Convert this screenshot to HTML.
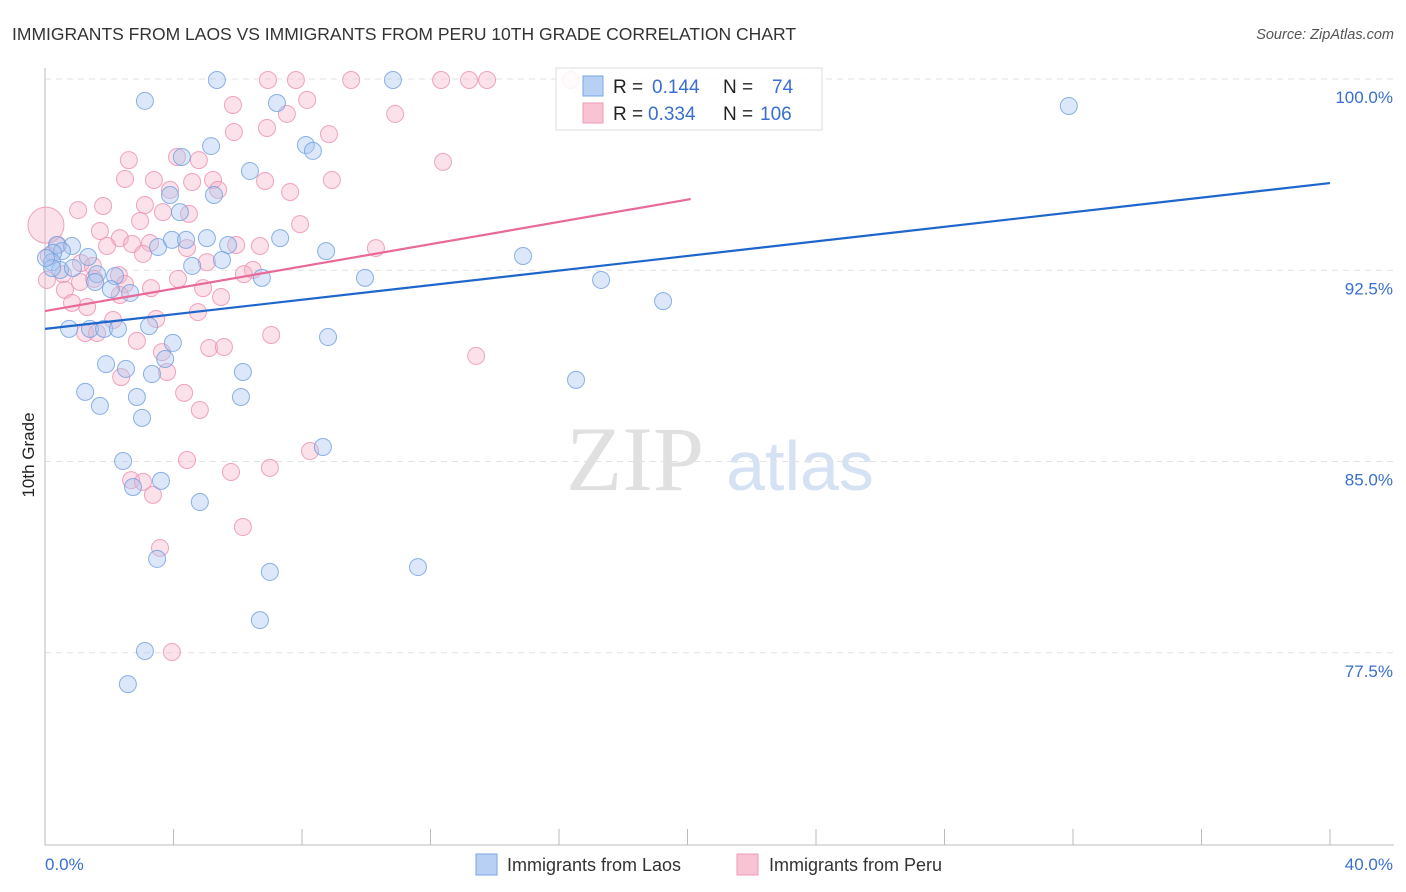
<!DOCTYPE html>
<html><head><meta charset="utf-8"><style>
html,body{margin:0;padding:0;background:#fff;width:1406px;height:892px;overflow:hidden;font-family:"Liberation Sans",sans-serif}
</style></head><body>
<svg id="chart" width="1406" height="892" viewBox="0 0 1406 892" xmlns="http://www.w3.org/2000/svg" font-family="Liberation Sans, sans-serif">
<text x="12" y="40" font-size="17.5" fill="#333">IMMIGRANTS FROM LAOS VS IMMIGRANTS FROM PERU 10TH GRADE CORRELATION CHART</text>
<text x="1394" y="39" font-size="14.5" fill="#555" font-style="italic" text-anchor="end">Source: ZipAtlas.com</text>
<text transform="translate(34,455) rotate(-90)" font-size="17" fill="#222" text-anchor="middle">10th Grade</text>
<g>
<text x="635" y="490" font-size="92" fill="#e0e0e0" font-family="Liberation Serif, serif" text-anchor="middle">ZIP</text>
<text x="800" y="490" font-size="70" fill="#d4e2f4" text-anchor="middle">atlas</text>
</g>
<g id="grid"></g><g id="axes"></g><g id="points"></g><g id="trends"></g>
<g>
<rect x="556" y="68" width="266" height="62" fill="#fff" fill-opacity="0.85" stroke="#ddd"/>
<rect x="583" y="76" width="20" height="20" fill="#b7d0f4" stroke="#7aa6e6"/>
<rect x="583" y="103" width="20" height="20" fill="#f8c4d4" stroke="#ee9ab6"/>
<text x="613" y="93" font-size="19" fill="#222">R =</text><text x="652" y="93" font-size="19" fill="#3a6fd0">0.144</text>
<text x="723" y="93" font-size="19" fill="#222">N =</text><text x="772" y="93" font-size="19" fill="#3a6fd0">74</text>
<text x="613" y="120" font-size="19" fill="#222">R =</text><text x="648" y="120" font-size="19" fill="#3a6fd0">0.334</text>
<text x="723" y="120" font-size="19" fill="#222">N =</text><text x="760" y="120" font-size="19" fill="#3a6fd0">106</text>
</g>
<g>
<rect x="476" y="854" width="21" height="21" fill="#b7d0f4" stroke="#7aa6e6"/>
<text x="507" y="871" font-size="18" fill="#333">Immigrants from Laos</text>
<rect x="737" y="854" width="21" height="21" fill="#f8c4d4" stroke="#ee9ab6"/>
<text x="769" y="871" font-size="18" fill="#333">Immigrants from Peru</text>
</g>
</svg>
<script>
const yTicks=[100,92.5,85,77.5];
const yTickLabels=["100.0%","92.5%","85.0%","77.5%"];
const xEndLabels=["0.0%","40.0%"];
const laosX=[3.11,5.35,10.83,31.87,7.22,8.12,8.34,5.17,4.26,6.38,5.26,3.89,4.20,0.37,0.84,0.53,0.25,1.34,0.22,0.47,0.87,2.18,1.62,1.56,2.05,2.65,0.22,3.52,3.95,4.39,5.04,5.70,7.32,8.75,4.58,5.51,6.75,9.96,14.88,17.31,19.24,0.75,1.40,1.84,2.27,3.24,3.98,3.74,1.90,2.52,3.33,6.16,1.25,2.86,6.10,1.71,3.02,8.81,16.53,8.65,2.43,2.74,3.61,4.82,3.49,7.00,11.61,6.69,3.11,2.58,0.03];
const laosY=[99.14,99.96,99.96,98.94,99.06,97.41,97.18,97.37,96.94,96.39,95.45,95.45,94.78,93.49,93.45,93.25,93.18,93.02,92.82,92.51,92.59,92.27,92.35,92.04,91.76,91.61,92.59,93.41,93.69,93.69,93.76,93.49,93.76,93.25,92.67,92.90,92.20,92.20,93.06,92.12,91.29,90.20,90.20,90.20,90.20,90.31,89.65,89.02,88.82,88.63,88.43,88.51,87.73,87.53,87.53,87.18,86.71,89.88,88.20,85.57,85.02,84.00,84.24,83.41,81.18,80.67,80.86,78.78,77.57,76.27,92.98];
const peruX=[6.94,7.81,9.53,12.33,13.20,13.76,16.37,8.16,5.85,7.53,10.90,5.88,6.91,8.84,4.11,4.79,2.61,12.39,2.49,3.39,4.58,5.23,6.85,8.93,7.63,5.39,3.89,3.11,1.03,1.81,3.67,4.48,2.96,1.71,7.94,2.33,1.93,2.71,3.27,4.42,3.05,5.04,6.69,5.95,10.30,0.40,0.12,1.12,1.49,2.30,4.14,6.47,6.19,0.56,1.09,1.53,0.62,2.49,3.30,4.92,5.48,0.84,1.31,2.12,3.46,4.76,1.25,1.62,2.86,3.64,5.11,5.57,7.04,13.42,2.37,3.80,4.33,4.82,8.25,4.42,5.79,7.00,2.68,3.05,3.36,6.16,3.58,3.95,0.06,2.33,0.03];
const peruY=[99.96,99.96,99.96,99.96,99.96,99.96,99.96,99.18,98.98,98.63,98.63,97.92,98.08,97.84,96.94,96.82,96.82,96.75,96.08,96.04,95.96,96.04,96.00,96.04,95.57,95.65,95.65,95.06,94.86,95.02,94.78,94.71,94.43,94.04,94.31,93.76,93.45,93.53,93.57,93.37,93.14,92.82,93.45,93.49,93.37,93.49,93.06,92.78,92.67,92.31,92.16,92.51,92.35,92.35,92.04,92.16,91.73,91.96,91.80,91.80,91.45,91.22,91.06,90.55,90.59,90.86,90.04,90.04,89.73,89.29,89.45,89.49,89.96,89.14,88.31,88.51,87.69,87.02,85.41,85.06,84.59,84.75,84.27,84.20,83.69,82.43,81.61,77.53,92.12,91.53,94.27];
const laosTrend=[90.2,0.143];
const peruTrend=[90.9,0.2185];
const peruTrendEnd=20.1;
const NS="http://www.w3.org/2000/svg";
const X0=45,X1=1330,Y0=844,Y1=79;
function sx(v){return X0+(v/40)*(X1-X0);}
function sy(v){return Y0-((v-70)/30)*(Y0-Y1);}
function mk(t,a,p){const e=document.createElementNS(NS,t);for(const k in a)e.setAttribute(k,a[k]);p.appendChild(e);return e;}
const grid=document.getElementById('grid'),axes=document.getElementById('axes'),pts=document.getElementById('points'),tr=document.getElementById('trends');
yTicks.forEach((t,i)=>{
 const l=mk('line',{x1:X0,x2:1394,y1:sy(t),y2:sy(t),stroke:'#e2e2e2','stroke-dasharray':'6,5'},grid);
 
 
 const tx=mk('text',{x:1393,y:sy(t)+24,'font-size':17,fill:'#3a6fd0','text-anchor':'end'},axes);
 tx.textContent=yTickLabels[i];
 
 
});
const ya=mk('line',{x1:X0,x2:X0,y1:68,y2:Y0+1,stroke:'#bbb'},axes);


const xa=mk('line',{x1:X0,x2:1394,y1:Y0+1,y2:Y0+1,stroke:'#bbb'},axes);


for(let i=0;i<=10;i++){
 const t=mk('line',{x1:sx(i*4),x2:sx(i*4),y1:829,y2:Y0+1,stroke:'#bbb'},axes);
 
 
}
const xl0=mk('text',{x:45,y:870,'font-size':17,fill:'#3a6fd0'},axes);xl0.textContent=xEndLabels[0];


const xl1=mk('text',{x:1393,y:870,'font-size':17,fill:'#3a6fd0','text-anchor':'end'},axes);xl1.textContent=xEndLabels[1];


function draw(xs,ys,fill,stroke,name){
 xs.forEach((x,i)=>{
  const big=(x<0.05&&ys[i]>94);
  const c=mk('circle',{cx:sx(x),cy:sy(ys[i]),r:big?18:8.5,fill:fill,'fill-opacity':0.4,stroke:stroke,'stroke-opacity':0.8,'stroke-width':1},pts);
  
  
 });
}
draw(peruX,peruY,'#f5b3c8','#ec8fb0','peru-point');
draw(laosX,laosY,'#a8c6f0','#6f9fe0','laos-point');
const lb=mk('line',{x1:sx(0),y1:sy(laosTrend[0]),x2:sx(40),y2:sy(laosTrend[0]+laosTrend[1]*40),stroke:'#1f66cc','stroke-width':2.2},tr);


const lp=mk('line',{x1:sx(0),y1:sy(peruTrend[0]),x2:sx(peruTrendEnd),y2:sy(peruTrend[0]+peruTrend[1]*peruTrendEnd),stroke:'#e86a99','stroke-width':2.2},tr);


</script>
</body></html>
